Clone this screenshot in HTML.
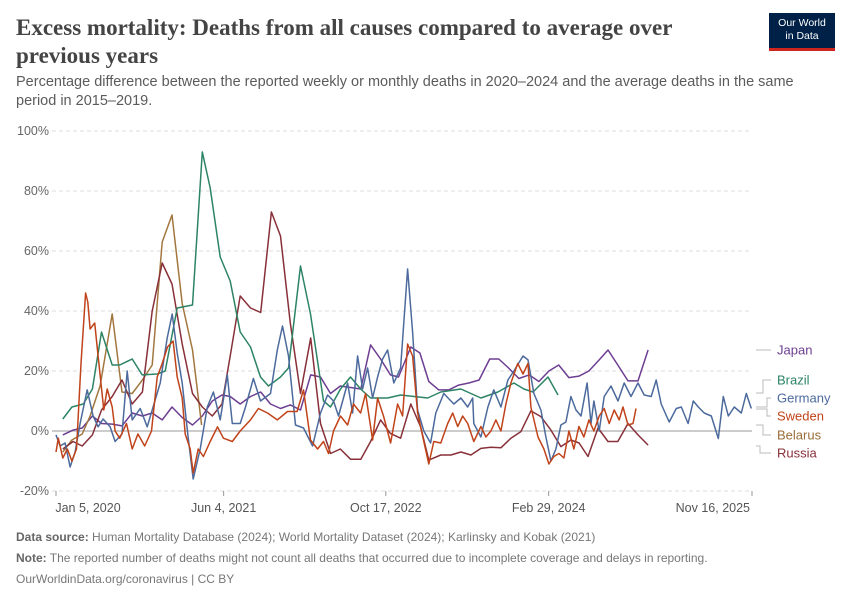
<!DOCTYPE html>
<html><head><meta charset="utf-8">
<style>
body{margin:0;background:#fff;width:850px;height:600px;overflow:hidden;font-family:"Liberation Sans",sans-serif}
#title{position:absolute;left:16px;top:14px;width:720px;font-family:"Liberation Serif",serif;font-size:23px;font-weight:bold;line-height:28px;color:#444}
#sub{position:absolute;left:16px;top:73px;width:810px;font-size:14.5px;line-height:19px;color:#5b5b5b}
#logo{position:absolute;left:769px;top:13px;width:66px;height:38px;background:#002147;color:#fff;font-size:10.5px;text-align:center;line-height:13px;padding-top:4px;box-sizing:border-box;border-bottom:3px solid #ce261e}
#foot{position:absolute;left:16px;top:527px;font-size:12px;color:#777;line-height:21px}
#foot b{font-weight:bold;color:#666}
svg{position:absolute;left:0;top:0}
</style></head><body>
<div id="title">Excess mortality: Deaths from all causes compared to average over previous years</div>
<div id="sub">Percentage difference between the reported weekly or monthly deaths in 2020–2024 and the average deaths in the same period in 2015–2019.</div>
<div id="logo">Our World<br>in Data</div>
<svg id="chart" width="850" height="600"></svg>
<div id="foot">
<div><b>Data source:</b> Human Mortality Database (2024); World Mortality Dataset (2024); Karlinsky and Kobak (2021)</div>
<div><b>Note:</b> The reported number of deaths might not count all deaths that occurred due to incomplete coverage and delays in reporting.</div>
<div>OurWorldinData.org/coronavirus | CC BY</div>
</div>
<script>
// x values are weeks since Jan 5, 2020; y values are % excess mortality
const yTicks=[-20,0,20,40,60,80,100];
const xTickWeeks=[0,73.7,145,216.6,306];
const xTickLabels=["Jan 5, 2020","Jun 4, 2021","Oct 17, 2022","Feb 29, 2024","Nov 16, 2025"];
const germanyW=[0,1.8,4,6.2,8.4,10.6,13.7,16.3,18.5,20.7,23.8,26,29,31.3,33.5,37,40.1,42.7,45.8,48.9,51.1,53.3,55.5,58.1,60.3,63.4,66.5,69.2,72.2,75.3,77.5,81,83.3,86.8,89.9,94.3,97.3,99.6,102.2,105.3,108.8,112.8,116.3,119.4,122,124.2,128.2,130.4,132.6,134.8,137,139.2,141.4,143.6,145.8,148.5,151.5,154.6,156.8,159,161.7,164.7,167,170.5,174.9,178,181,183.2,183.7,186.8,189.9,192.5,195.6,198.7,201.3,205.3,207.5,210.1,213.2,215.4,217.6,219.8,222,224.2,226.4,228.6,230.8,233.5,235.2,236.5,238.8,241,244,247.1,249.8,252.8,255.9,258.6,261.7,263.9,266.1,269.6,272.7,274.9,277.9,280.2,282.4,285,288.1,291.2,293.4,295.6,298.2,301.3,303.5,305.7];
const germanyV=[-1.3,-5,-4,-12,-7,2.5,13.7,5,1.4,4,1.4,-3.5,-1,20,3.7,7.5,1.4,8,16,31,39,26,16,-2,-16,-6,8,13,3.7,18.7,2.5,2.5,8,17.5,10,12.5,27,35,25,2,1,-5,6,12,10,5,16,6,25,14,21,11,18,24,27,16,21,54,33,7,0,-4,6,12.5,9,11,8,11,2.5,-2,8,13.7,8,17,20,25,23.7,12.5,7,-2,-10,-6,2,3,11.5,7,5,16,2.5,10,0,11.5,15,10,16,11.5,16,12,11.5,17,9,3,7.5,8,2.5,10,8,6,5,-2.5,11.5,5,8,6,12.5,7.5];
const swedenW=[0,1,3,5,7,9,11,13,14,15,17,18.5,21,22.5,24.7,26,28,31,33.5,36,39,42,44.5,46.7,49,51.5,53.3,55.5,56.8,59,60.3,62.5,64.8,67.8,71,73.6,77.5,81,85.5,89,93,97.3,101.8,106,108.8,111.9,115,117.6,119.8,122,125.1,128.2,130.8,133.9,136.1,139.2,141.4,144,147.1,150.2,152.4,154.6,156.8,159,161.7,163.9,166.1,169.2,172.2,174.4,176.6,178.8,181,183.7,186.8,189,191.2,193.4,195.6,197.8,200,203,205.3,207.5,208.8,211.9,214.5,216.7,218.9,221.1,223.3,225.5,227.7,229.9,232.1,234.3,236.5,238.8,241,243.2,245.4,247.6,249.3,251.5,253.7,255];
const swedenV=[-7,-2.4,-9,-6,-10,-6,22.5,46,43,34,36,25,7,14,8,0,-2.4,2.5,-6,-1,-5,0,18,22.5,28,30,18,11,-1,-6,-14,-6,-8.5,-3.5,1.4,-2.4,-3.5,0,3.7,7.5,6,3.7,6.5,6.5,13.7,-3,-6,-3.5,-7.5,0,5,2,9,6,12.5,-3,11,5,-4,9,5,29,25,6,-3.5,-11,-3.5,-4,2.5,6,1.5,5,2.5,-3.5,1.5,-2,0,3.7,0,9,16,22.5,19,22.5,8,-2,-6,-11,-8.5,-7.5,-9,0,-6,1.5,-2,3.7,0,5,7.5,2.5,7,3.7,8,2,2.5,7.5];
const brazilW=[3,7,12,16,20,24.7,28,33.5,37.9,44.5,48,53.3,60,64.3,67.8,72.2,76.6,81,85.5,89.9,93.4,98.7,102.2,107.5,111.9,117.6,120.7,125.1,129.5,133.9,138.3,145.8,151.5,163.4,169.2,178,186.8,194.3,201.3,205.7,209.7,216.3,220.7];
const brazilV=[4,8,9,14,33,22,22,24,18.7,19,20,41,42,93,81,58,50,33,28,18,15,18,21,55,39,10,8,14,18,14,11,11,12,11,13,14,11,13,16,14,13,18,12];
const japanW=[3,7.5,11.5,16,20,24.7,29,33.5,38,42.3,46.7,51,55.5,60,64.3,68.7,73,76.6,81,85.5,90,94.3,98.7,103,107.5,112,116.3,120.7,125,129.5,134,138.3,142.7,147,150.6,156,160,163.9,168.3,172.7,177,181.5,186,190.7,194.7,199,203.5,208,212.3,216.7,221,225.5,230,234.3,238.8,242.7,247,251.5,255.9,260.3];
const japanV=[-1.3,0.3,1,5,2.5,2.3,1.7,6,5,6,3.7,8,4.5,2,5,10,12,11.5,9,11.5,13,9,7.5,8.7,7,18.7,18,12.5,15,14.5,14,28.7,24,18.7,18,28,26,16.5,13.7,13.7,15.3,16,17,24,24,21,17.5,18.7,16.5,20,22,17.8,18.3,20,23.7,27,22,16.7,16.7,27];
const russiaW=[3,7.5,11.5,16,20,24.7,29,33.5,38,42.3,46.7,51,55.5,60,64.3,68.7,73,76.6,81,85.5,90,94.7,98.7,103,107.5,112,116.3,120.7,125,129.5,134,138.3,142.7,147,151.5,156,160.3,163.9,169.2,173.6,178,182.4,186.8,191.2,195.6,200,204.4,208.8,213.2,217.6,222,226.4,230,233.9,238.3,242.7,247,251.5,255.9,260.3];
const russiaV=[-6,-3.5,-5,-1.3,7,11.5,17,9,13,40,56,49,29,12.5,8,5,9,25,45,41,39.5,73,65,36,12.5,31,2.5,-7.5,-6,-9.4,-9.4,-3.5,3.7,-0.8,-2.4,9,1.4,-9.7,-8,-8,-7,-8,-5.8,-5.4,-5.6,-2.4,-0.2,6.7,4.8,0.3,-5.2,-3,-4,-8.5,1,-3.5,-3.5,2.5,-1.3,-4.7];
const belarusW=[3,7,11.5,15,19.4,24.7,29,33.5,38,42.3,46.7,51,55.5,60,64];
const belarusV=[-7,-3,-1,5,15,39,13,12.5,17,22,63,72,42.5,27,2];

const svg=document.getElementById('chart');
const NS='http://www.w3.org/2000/svg';
const X0=56,X1=752,Y0=431;
function xs(w){return X0+(w-0)/(306-0)*(X1-X0);}
function ys(v){return Y0-v*3;}
function el(tag,attrs,parent){const e=document.createElementNS(NS,tag);for(const k in attrs)e.setAttribute(k,attrs[k]);(parent||svg).appendChild(e);return e;}
yTicks.forEach(t=>{
  if(t!==0){const g=el('line',{x1:52,x2:X1,y1:ys(t),y2:ys(t),stroke:'#ddd','stroke-dasharray':'4,3'});
  
  }
  const tx=el('text',{x:49,y:ys(t)+4,'text-anchor':'end','font-size':'12.5',fill:'#666'});
  tx.textContent=t+'%';
  
  
});
xTickWeeks.forEach((w,i)=>{
  const tk=el('line',{x1:xs(w),x2:xs(w),y1:491,y2:496,stroke:'#999'});
  
  
  const tx=el('text',{x:xs(w)+(i===4?-2:(i===0?32:0)),y:512,'text-anchor':i===4?'end':'middle','font-size':'12.5',fill:'#555'});
  tx.textContent=xTickLabels[i];
  
  
});
const zl=el('line',{x1:52,x2:X1,y1:ys(0),y2:ys(0),stroke:'#bbb','stroke-width':1.5});


const series=[
 ['japan',japanW,japanV,'#6d3e91'],
 ['belarus',belarusW,belarusV,'#a2773f'],
 ['russia',russiaW,russiaV,'#883039'],
 ['brazil',brazilW,brazilV,'#2c8465'],
 ['germany',germanyW,germanyV,'#4c6a9c'],
 ['sweden',swedenW,swedenV,'#c0431a']
];
series.forEach(s=>{
  const pts=s[1].map((w,i)=>xs(w).toFixed(1)+','+ys(s[2][i]).toFixed(1)).join(' ');
  const p=el('polyline',{points:pts,fill:'none',stroke:s[3],'stroke-width':1.5,'stroke-linejoin':'round'});
  
  
});
// legend
const leg=[['Japan',350,'#6d3e91','M756,350 H771'],['Brazil',380,'#2c8465','M756,393 H763 V380 H771'],['Germany',398,'#4c6a9c','M756,407 H767 V398 H771'],['Sweden',416,'#c0431a','M756,409 H767 V416 H771'],['Belarus',435,'#996d39','M756,425 H763 V435 H771'],['Russia',453,'#883039','M756,446 H760 V453 H771']];
leg.forEach(l=>{
  const pth=el('path',{d:l[3],fill:'none',stroke:'#bbb'});
  
  
  const t=el('text',{x:777,y:l[1]+4.5,'font-size':'13',fill:l[2]});
  t.textContent=l[0];
  
  
});
</script>
</body></html>
